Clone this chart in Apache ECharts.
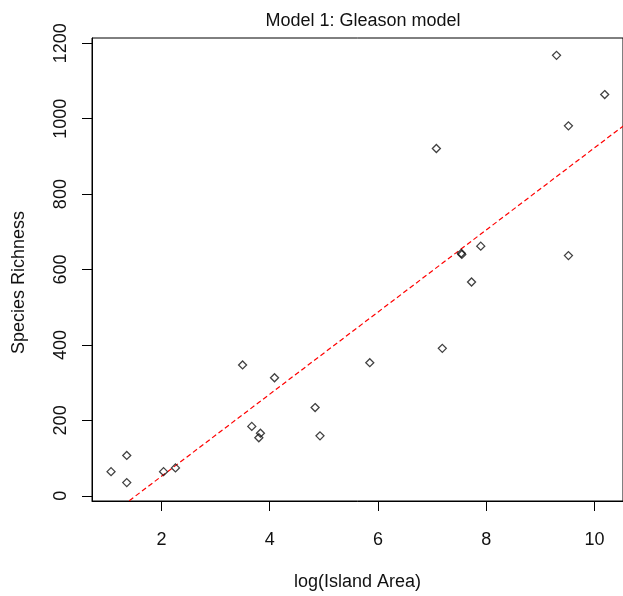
<!DOCTYPE html>
<html>
<head>
<meta charset="utf-8">
<script src="https://cdn.jsdelivr.net/npm/echarts@6/dist/echarts.min.js"></script>
<style>
html,body{margin:0;padding:0;background:#fff;}
#chart{width:623px;height:596px;}
</style>
</head>
<body>
<div id="chart"></div>
<script>
// points: log(Island Area) vs Species Richness
var logArea = [1.07, 1.36, 1.36, 2.04, 2.26, 3.50, 3.67, 3.80, 3.83, 4.09, 4.84, 4.93, 5.85, 7.08, 7.19, 7.54, 7.55, 7.73, 7.90, 9.30, 9.52, 9.52, 10.19];
var richness = [64, 107, 35, 64, 74, 347, 184, 154, 166, 313, 234, 159, 353, 921, 391, 643, 640, 567, 662, 1168, 981, 637, 1064];
// ends of the red dashed fit line
var fitX = [0.7, 10.6];
var fitY = [-90, 988];
var xTicks = [2, 4, 6, 8, 10];
var yTicks = [0, 200, 400, 600, 800, 1000, 1200];

var font = "'Liberation Sans', Arial, sans-serif";
var pts = logArea.map(function (x, i) { return [x, richness[i]]; });
var fit = fitX.map(function (x, i) { return [x, fitY[i]]; });

var myChart = echarts.init(document.getElementById('chart'));
var option = {
	animation: false,
	backgroundColor: '#fff',
	title: {
		text: 'Model 1: Gleason model',
		left: 358,
		textAlign: 'center',
		top: 7,
		textStyle: { fontFamily: font, fontSize: 18, fontWeight: 'normal', color: '#111' }
	},
	grid: {
		left: 92, right: -2, top: 38, bottom: 88,
		show: true, borderColor: '#000', borderWidth: 1,
		containLabel: false
	},
	xAxis: {
		type: 'value',
		min: 0.718, max: 10.528,
		name: 'log(Island Area)',
		nameLocation: 'middle',
		nameGap: 72,
		nameTextStyle: { fontFamily: font, fontSize: 18, color: '#111' },
		splitLine: { show: false },
		axisLine: { show: true, onZero: false, lineStyle: { color: '#000', width: 1 } },
		axisTick: { show: true, length: 10, customValues: xTicks, lineStyle: { color: '#000' } },
		axisLabel: { customValues: xTicks, margin: 30, fontFamily: font, fontSize: 18, color: '#111' }
	},
	yAxis: {
		type: 'value',
		min: -13.8, max: 1214,
		name: 'Species Richness',
		nameLocation: 'middle',
		nameGap: 64,
		nameTextStyle: { fontFamily: font, fontSize: 18, color: '#111', padding: [0, 26, 0, 0] },
		splitLine: { show: false },
		axisLine: { show: true, onZero: false, lineStyle: { color: '#000', width: 1 } },
		axisTick: { show: true, length: 10, customValues: yTicks, lineStyle: { color: '#000' } },
		axisLabel: {
			customValues: yTicks, rotate: 90, margin: 22,
			formatter: function (v) { return String(v); },
			fontFamily: font, fontSize: 18, color: '#111'
		}
	},
	series: [
		{
			type: 'line',
			data: fit,
			showSymbol: false,
			clip: true,
			lineStyle: { color: '#ff0000', width: 1.2, type: [5, 3] },
			z: 2
		},
		{
			type: 'scatter',
			data: pts,
			symbol: 'diamond',
			symbolSize: 8,
			itemStyle: { color: 'rgba(0,0,0,0)', borderColor: '#111', borderWidth: 1.3 },
			z: 3
		}
	]
};
myChart.setOption(option);
</script>
</body>
</html>
